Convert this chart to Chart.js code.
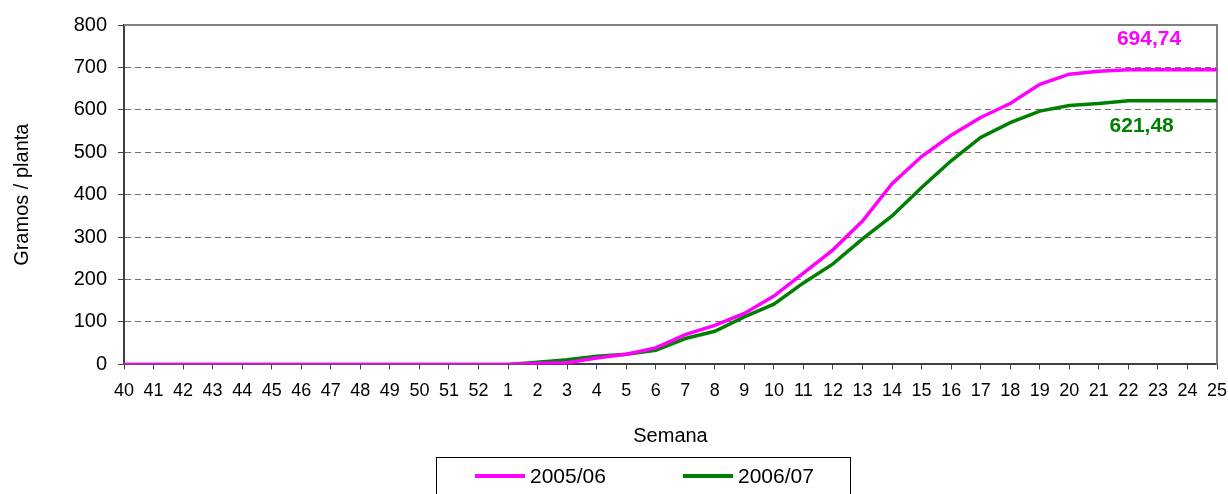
<!DOCTYPE html>
<html>
<head>
<meta charset="utf-8">
<script src="https://cdn.jsdelivr.net/npm/chart.js@4.4.0/dist/chart.umd.min.js"></script>
<style>
  html, body { margin: 0; padding: 0; background: #fff; }
</style>
</head>
<body>
<canvas id="myChart" width="1228" height="494"></canvas>
<script>
// weeks of the season, 40..52 then 1..25
const weeks = ["40","41","42","43","44","45","46","47","48","49","50","51","52",
  "1","2","3","4","5","6","7","8","9","10","11","12","13","14","15","16","17","18","19","20","21","22","23","24","25"];

// cumulative grams per plant
const gramos0506 = [0,0,0,0,0,0,0,0,0,0,0,0,0,
  0,2,4,15,24,39,70,92,120,161,215,270,338,426,490,540,582,615,660,684,691,694.74,694.74,694.74,694.74];
const gramos0607 = [0,0,0,0,0,0,0,0,0,0,0,0,0,
  0,5,11,19,24,33,61,78,112,142,192,237,296,350,417,480,535,570,597,610,615,621.48,621.48,621.48,621.48];

const seriesNames = ["2005/06", "2006/07"];
const seriesColors = ["#ff00ff", "#008000"];
const finalLabels = ["694,74", "621,48"];

const FONT = "'Liberation Sans', Arial, sans-serif";

// gray frame on top and right of the plot
const framePlugin = {
  id: "frame",
  beforeDatasetsDraw(chart) {
    const { ctx, chartArea: a } = chart;
    ctx.save();
    ctx.strokeStyle = "#808080";
    ctx.lineWidth = 2;
    ctx.beginPath();
    ctx.moveTo(a.left, a.top);
    ctx.lineTo(a.right, a.top);
    ctx.lineTo(a.right, a.bottom);
    ctx.stroke();
    ctx.restore();
  }
};

// final values written next to the end of each line
const endLabels = {
  id: "endLabels",
  afterDatasetsDraw(chart) {
    const { ctx } = chart;
    const x = chart.scales.x;
    const y = chart.scales.y;
    const offs = [-30, 25];
    const pos = [34.7, 34.45];
    ctx.save();
    ctx.font = "bold 21px " + FONT;
    ctx.textAlign = "center";
    ctx.textBaseline = "middle";
    chart.data.datasets.forEach((ds, i) => {
      const last = ds.data[ds.data.length - 1];
      ctx.fillStyle = seriesColors[i];
      ctx.fillText(finalLabels[i], x.getPixelForValue(pos[i]), y.getPixelForValue(last) + offs[i]);
    });
    ctx.restore();
  }
};

// boxed legend under the axis title
const boxLegend = {
  id: "boxLegend",
  afterDraw(chart) {
    const { ctx } = chart;
    const boxW = 414;
    const left = Math.round(chart.width / 2 + 29 - boxW / 2);
    const top = 457;
    ctx.save();
    ctx.strokeStyle = "#000";
    ctx.lineWidth = 1;
    ctx.strokeRect(left + 0.5, top + 0.5, boxW, 60);
    chart.data.datasets.forEach((ds, i) => {
      const x0 = left + 39 + i * 208;
      ctx.strokeStyle = ds.borderColor;
      ctx.lineWidth = 4;
      ctx.beginPath();
      ctx.moveTo(x0, 476);
      ctx.lineTo(x0 + 50, 476);
      ctx.stroke();
      ctx.fillStyle = "#000";
      ctx.font = "21px " + FONT;
      ctx.textAlign = "left";
      ctx.textBaseline = "middle";
      ctx.fillText(ds.label, x0 + 55, 477);
    });
    ctx.restore();
  }
};

const ctx = document.getElementById("myChart").getContext("2d");
const myChart = new Chart(ctx, {
  type: "line",
  data: {
    labels: weeks,
    datasets: [
      {
        label: seriesNames[0],
        data: gramos0506,
        borderColor: seriesColors[0],
        backgroundColor: seriesColors[0],
        borderWidth: 3.5,
        pointRadius: 0,
        tension: 0
      },
      {
        label: seriesNames[1],
        data: gramos0607,
        borderColor: seriesColors[1],
        backgroundColor: seriesColors[1],
        borderWidth: 3.5,
        pointRadius: 0,
        tension: 0
      }
    ]
  },
  options: {
    responsive: false,
    animation: false,
    devicePixelRatio: 1,
    layout: { padding: { left: 0, right: 0, top: 25, bottom: 46 } },
    plugins: {
      legend: { display: false },
      tooltip: { enabled: false }
    },
    scales: {
      x: {
        offset: false,
        afterFit(scale) { scale.paddingLeft = 0; scale.paddingRight = 11; },
        grid: {
          drawOnChartArea: false,
          tickLength: 5,
          tickColor: "#404040"
        },
        border: { color: "#404040", width: 2 },
        ticks: {
          autoSkip: false,
          maxRotation: 0,
          padding: 11,
          color: "#000",
          font: { family: FONT, size: 18 }
        },
        title: {
          display: true,
          text: "Semana",
          color: "#000",
          font: { family: FONT, size: 20 },
          padding: { top: 11, bottom: 0 }
        }
      },
      y: {
        min: 0,
        max: 800,
        afterFit(scale) { scale.width = 124; },
        grid: {
          color: (c) => (c.tick && (c.tick.value === 0 || c.tick.value === 800)) ? "rgba(0,0,0,0)" : "#707070",
          lineWidth: 1,
          tickLength: 6,
          tickColor: "#404040",
          tickBorderDash: []
        },
        border: { color: "#404040", width: 2, dash: [6, 4] },
        ticks: {
          stepSize: 100,
          padding: 11,
          color: "#000",
          font: { family: FONT, size: 20 }
        },
        title: {
          display: true,
          text: "Gramos / planta",
          color: "#000",
          font: { family: FONT, size: 20 },
          padding: { top: 10, bottom: 0 }
        }
      }
    }
  },
  plugins: [framePlugin, endLabels, boxLegend]
});
</script>
</body>
</html>
